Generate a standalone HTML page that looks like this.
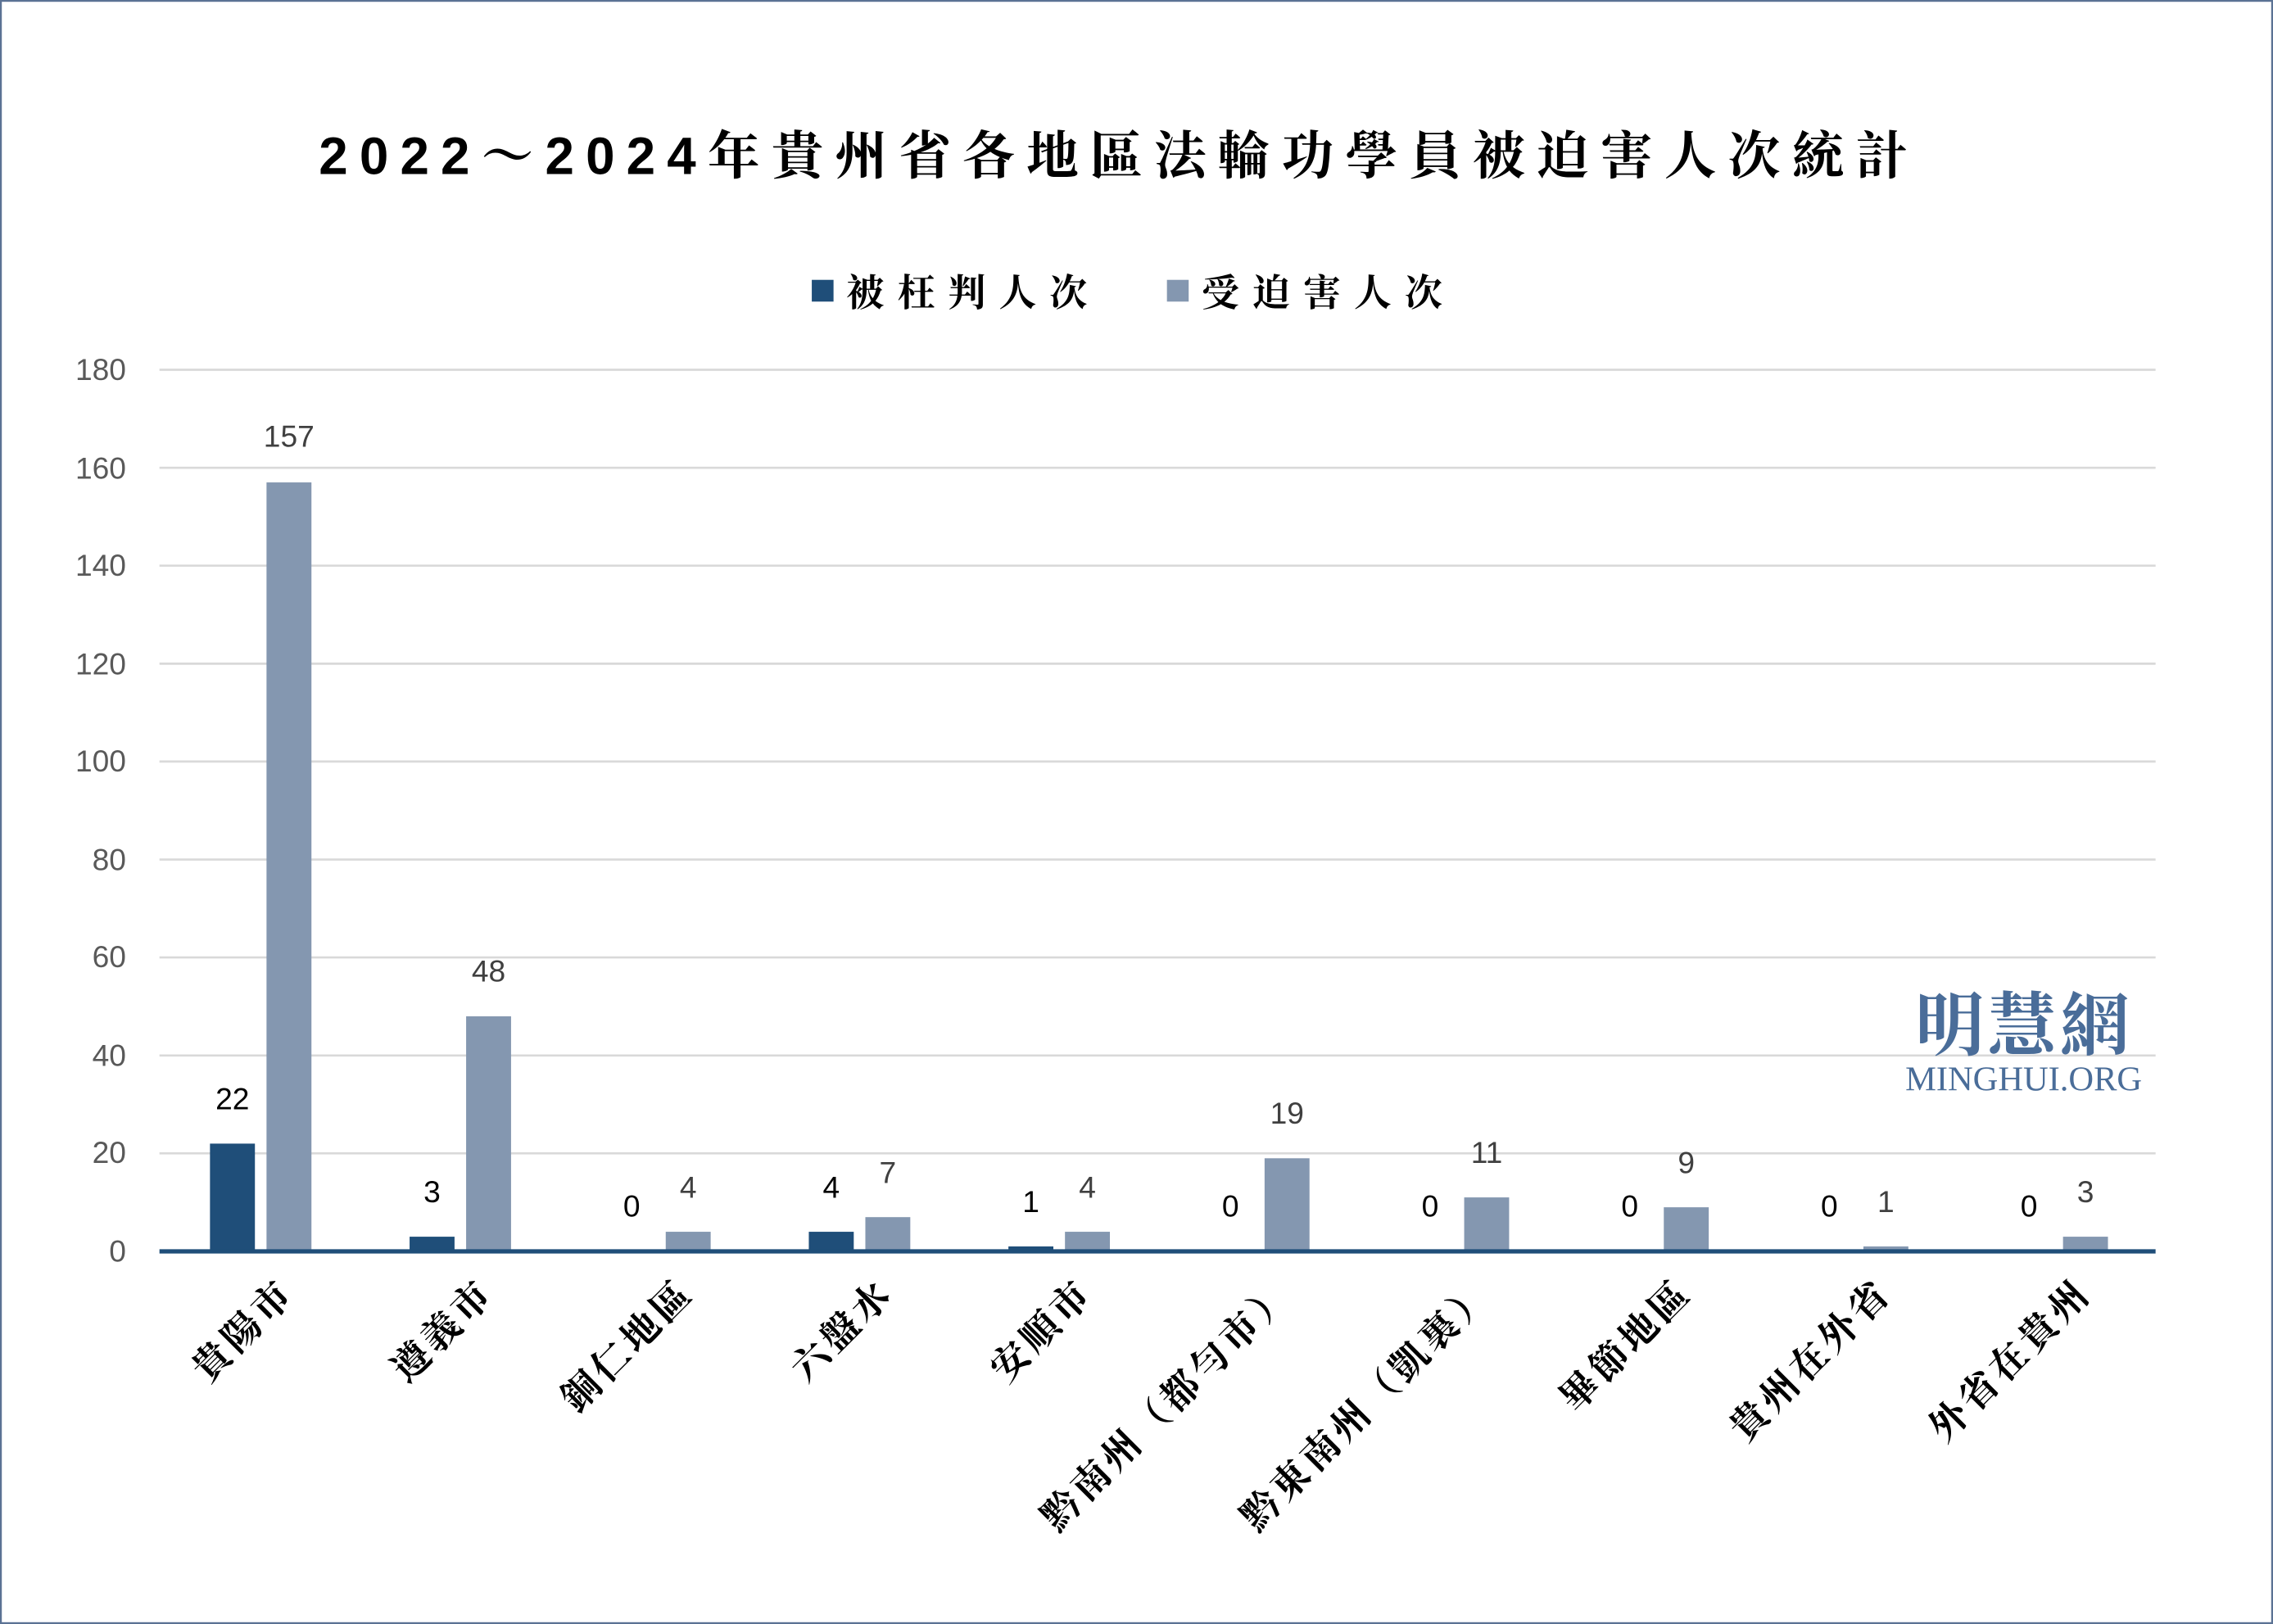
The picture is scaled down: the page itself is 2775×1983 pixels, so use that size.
<!DOCTYPE html>
<html><head><meta charset="utf-8"><style>
html,body{margin:0;padding:0;background:#fff;}
svg{display:block;}
text{font-family:"Liberation Sans","Noto Sans CJK TC",sans-serif;}
.cjk{font-family:"Liberation Sans","Noto Serif CJK SC","Noto Sans CJK TC",serif;font-weight:bold;}
.v1{font-size:21px;fill:#000;text-anchor:middle;}
.v2{font-size:21px;fill:#404040;text-anchor:middle;}
.cat{font-family:"Noto Serif CJK SC","Noto Sans CJK TC",serif;font-weight:bold;font-size:26px;fill:#000;text-anchor:end;letter-spacing:3px;}
</style></head><body>
<svg width="2775" height="1983" viewBox="0 0 1568 1120" preserveAspectRatio="none" xmlns="http://www.w3.org/2000/svg">
<rect x="0.5" y="0.5" width="1567" height="1119" fill="#fff" stroke="#5b7294" stroke-width="1.5"/>
<text x="772" y="120" text-anchor="middle" font-size="36" class="cjk" fill="#000" letter-spacing="8">2022～2024年貴州省各地區法輪功學員被迫害人次統計</text>
<rect x="560" y="193" width="15" height="15" fill="#1f4e79"/>
<text x="584" y="211" font-size="26" class="cjk" fill="#000" letter-spacing="9">被枉判人次</text>
<rect x="805" y="193" width="15" height="15" fill="#8497b0"/>
<text x="829" y="211" font-size="26" class="cjk" fill="#000" letter-spacing="9">受迫害人次</text>
<g stroke="#d9d9d9" stroke-width="1.5">
<line x1="110" x2="1487" y1="255" y2="255"/><line x1="110" x2="1487" y1="322.6" y2="322.6"/>
<line x1="110" x2="1487" y1="390.1" y2="390.1"/><line x1="110" x2="1487" y1="457.7" y2="457.7"/>
<line x1="110" x2="1487" y1="525.2" y2="525.2"/><line x1="110" x2="1487" y1="592.8" y2="592.8"/>
<line x1="110" x2="1487" y1="660.3" y2="660.3"/><line x1="110" x2="1487" y1="727.9" y2="727.9"/>
<line x1="110" x2="1487" y1="795.4" y2="795.4"/>
</g>
<g font-size="21" fill="#595959" text-anchor="end">
<text x="87" y="262">180</text><text x="87" y="330">160</text><text x="87" y="397">140</text>
<text x="87" y="465">120</text><text x="87" y="532">100</text><text x="87" y="600">80</text>
<text x="87" y="667">60</text><text x="87" y="735">40</text><text x="87" y="802">20</text>
<text x="87" y="870">0</text>
</g>
<g fill="#1f4e79">
<rect x="144.85" y="788.7" width="31" height="74.3"/>
<rect x="282.55" y="852.9" width="31" height="10.1"/>
<rect x="557.95" y="849.5" width="31" height="13.5"/>
<rect x="695.65" y="859.6" width="31" height="3.4"/>
</g>
<g fill="#8497b0">
<rect x="183.85" y="332.7" width="31" height="530.3"/>
<rect x="321.55" y="700.9" width="31" height="162.1"/>
<rect x="459.25" y="849.5" width="31" height="13.5"/>
<rect x="596.95" y="839.4" width="31" height="23.6"/>
<rect x="734.65" y="849.5" width="31" height="13.5"/>
<rect x="872.35" y="798.8" width="31" height="64.2"/>
<rect x="1010.05" y="825.8" width="31" height="37.2"/>
<rect x="1147.75" y="832.6" width="31" height="30.4"/>
<rect x="1285.45" y="859.6" width="31" height="3.4"/>
<rect x="1423.15" y="852.9" width="31" height="10.1"/>
</g>
<line x1="110" x2="1487" y1="863" y2="863" stroke="#1f4e79" stroke-width="3"/>
<text class="v1" x="160.35" y="765">22</text><text class="v2" x="199.35" y="308">157</text>
<text class="v1" x="298.05" y="829">3</text><text class="v2" x="337.05" y="677">48</text>
<text class="v1" x="435.75" y="839">0</text><text class="v2" x="474.75" y="826">4</text>
<text class="v1" x="573.45" y="826">4</text><text class="v2" x="612.45" y="816">7</text>
<text class="v1" x="711.15" y="836">1</text><text class="v2" x="750.15" y="826">4</text>
<text class="v1" x="848.85" y="839">0</text><text class="v2" x="887.85" y="775">19</text>
<text class="v1" x="986.55" y="839">0</text><text class="v2" x="1025.55" y="802">11</text>
<text class="v1" x="1124.25" y="839">0</text><text class="v2" x="1163.25" y="809">9</text>
<text class="v1" x="1261.95" y="839">0</text><text class="v2" x="1300.95" y="836">1</text>
<text class="v1" x="1399.65" y="839">0</text><text class="v2" x="1438.65" y="829">3</text>
<text class="cat" x="204.85" y="893" transform="rotate(-45 204.85 893)">貴陽市</text>
<text class="cat" x="342.55" y="893" transform="rotate(-45 342.55 893)">遵義市</text>
<text class="cat" x="480.25" y="893" transform="rotate(-45 480.25 893)">銅仁地區</text>
<text class="cat" x="617.95" y="893" transform="rotate(-45 617.95 893)">六盤水</text>
<text class="cat" x="755.65" y="893" transform="rotate(-45 755.65 893)">安順市</text>
<text class="cat" x="893.35" y="893" transform="rotate(-45 893.35 893)">黔南州（都勻市）</text>
<text class="cat" x="1031.05" y="893" transform="rotate(-45 1031.05 893)">黔東南州（凱裏）</text>
<text class="cat" x="1168.75" y="893" transform="rotate(-45 1168.75 893)">畢節地區</text>
<text class="cat" x="1306.45" y="893" transform="rotate(-45 1306.45 893)">貴州在外省</text>
<text class="cat" x="1444.15" y="893" transform="rotate(-45 1444.15 893)">外省在貴州</text>
<text x="1396" y="724" text-anchor="middle" font-size="48" class="cjk" fill="#4a6d99" letter-spacing="2">明慧網</text>
<text x="1396" y="752" text-anchor="middle" font-size="24" fill="#4a6d99" style="font-family:'Liberation Serif',serif">MINGHUI.ORG</text>
</svg>
</body></html>
